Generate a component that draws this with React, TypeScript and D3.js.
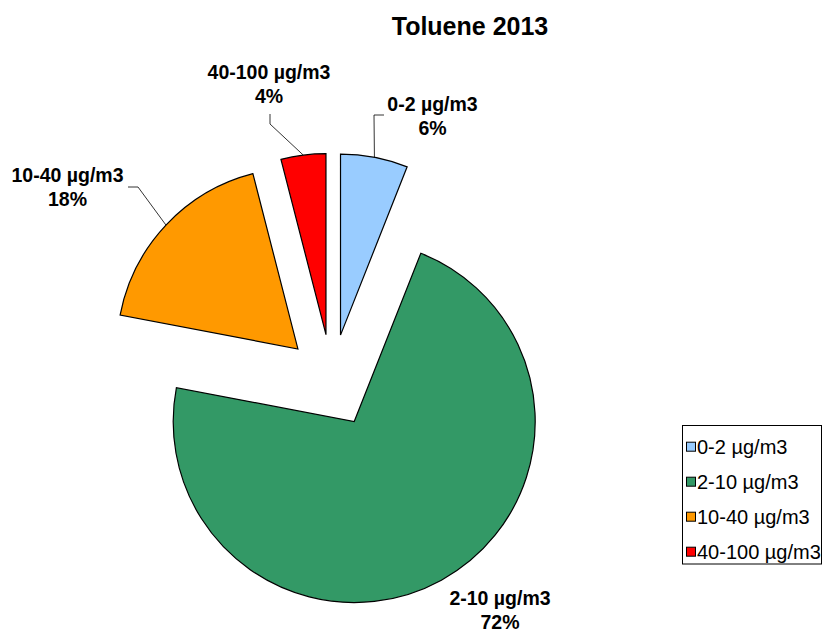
import * as d3 from 'd3'

const title = 'Toluene 2013'
const categories = ['0-2 µg/m3', '2-10 µg/m3', '10-40 µg/m3', '40-100 µg/m3']
const shares = [6, 72, 18, 4]
const colors = ['#99CCFF', '#339966', '#FF9900', '#FF0000']

const width = 822
const height = 634
const cx = 331.8
const cy = 380.8
const radius = 181
const explode = 46.5
const font = '"Liberation Sans", Arial, sans-serif'

// where each data label sits (first line centre) and the elbow of its leader line
const labelLayout: { x: number; y: number; leader: [number, number][] | null }[] = [
  { x: 432.5, y: 104, leader: [[384, 115], [374, 115]] },
  { x: 500, y: 598, leader: null },
  { x: 67.5, y: 175, leader: [[128, 187], [138, 187]] },
  { x: 269, y: 72, leader: [[270, 114], [270, 124]] },
]

const App = () => {
  const total = d3.sum(shares)
  const pct = d3.format('.0%')

  const slices = d3
    .pie<number>()
    .sort(null)
    .value((d) => d)(shares)

  const arc = d3
    .arc<d3.PieArcDatum<number>>()
    .innerRadius(0)
    .outerRadius(radius)

  const line = d3.line()

  return (
    <svg
      width={width}
      height={height}
      style={{ position: 'absolute', left: 0, top: 0, background: 'white' }}
      fontFamily={font}
    >
      {/* title */}
      <text x={470} y={35} textAnchor="middle" fontSize={25} fontWeight="bold">
        {title}
      </text>

      {/* exploded slices */}
      {slices.map((s, i) => {
        const mid = (s.startAngle + s.endAngle) / 2
        const ox = cx + explode * Math.sin(mid)
        const oy = cy - explode * Math.cos(mid)
        return (
          <path
            key={categories[i]}
            d={arc(s) ?? ''}
            transform={`translate(${ox},${oy})`}
            fill={colors[i]}
            stroke="#000"
            strokeWidth={1.2}
            strokeLinejoin="miter"
          />
        )
      })}

      {/* leader lines */}
      {slices.map((s, i) => {
        const lay = labelLayout[i]
        if (!lay.leader) return null
        const mid = (s.startAngle + s.endAngle) / 2
        const px = cx + (explode + radius) * Math.sin(mid)
        const py = cy - (explode + radius) * Math.cos(mid)
        const pts: [number, number][] = [...lay.leader, [px, py]]
        return (
          <path
            key={'leader' + i}
            d={line(pts) ?? ''}
            fill="none"
            stroke="#000"
            strokeWidth={0.8}
          />
        )
      })}

      {/* data labels */}
      {slices.map((s, i) => {
        const lay = labelLayout[i]
        return (
          <text
            key={'label' + i}
            textAnchor="middle"
            fontSize={19.5}
            fontWeight="bold"
          >
            <tspan x={lay.x} y={lay.y + 7}>
              {categories[i]}
            </tspan>
            <tspan x={lay.x} y={lay.y + 7 + 24}>
              {pct(s.value / total)}
            </tspan>
          </text>
        )
      })}

      {/* legend */}
      <rect x={682.5} y={425.5} width={139} height={138.5} fill="white" stroke="#000" strokeWidth={1} />
      {categories.map((c, i) => {
        const y = 446.7 + i * 35
        return (
          <g key={'legend' + i}>
            <rect x={686.5} y={y - 4.5} width={9} height={9} fill={colors[i]} stroke="#000" strokeWidth={1} />
            <text x={697} y={y + 7.2} fontSize={20}>
              {c}
            </text>
          </g>
        )
      })}
    </svg>
  )
}

export default App
